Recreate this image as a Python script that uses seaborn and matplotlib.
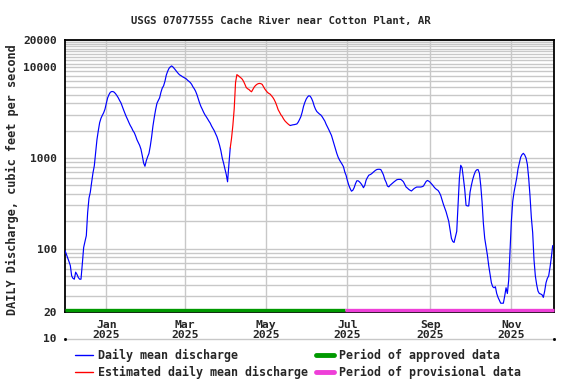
import numpy as np
import pandas as pd
import matplotlib
matplotlib.use("Agg")
import matplotlib.pyplot as plt
import matplotlib.transforms as mtransforms
from matplotlib.lines import Line2D
from matplotlib.ticker import FixedLocator, NullFormatter
import seaborn as sns

# ---------------- data ----------------
title = "USGS 07077555 Cache River near Cotton Plant, AR"
ylabel = "DAILY Discharge, cubic feet per second"
start_date = "2024-12-01"
period_end = "2025-12-03"
estimated_start = "2025-04-04"
estimated_end = "2025-05-19"
approved_end = "2025-06-29"

discharge_cfs = [
    95, 87, 79, 72, 65, 50, 47, 46, 55, 52,
    48, 46, 46, 68, 103, 120, 139, 250, 360, 420,
    540, 685, 820, 1150, 1600, 2000, 2450, 2740, 2950, 3150,
    3450, 4000, 4600, 5000, 5300, 5400, 5400, 5300, 5100, 4860,
    4600, 4300, 4050, 3700, 3380, 3100, 2850, 2650, 2450, 2280,
    2150, 2000, 1900, 1750, 1590, 1480, 1380, 1250, 1060, 880,
    810, 930, 1030, 1120, 1350, 1700, 2250, 2800, 3400, 4000,
    4300, 4600, 5300, 5900, 6250, 7000, 8180, 9000, 9700, 10100,
    10350, 10100, 9700, 9300, 8900, 8550, 8250, 8100, 7900, 7750,
    7600, 7450, 7200, 7000, 6800, 6500, 6100, 5800, 5450, 5000,
    4500, 4050, 3700, 3450, 3200, 3000, 2850, 2700, 2550, 2420,
    2250, 2120, 2000, 1850, 1720, 1550, 1380, 1200, 1000, 880,
    760, 660, 546, 845, 1290, 1655, 2300, 3500, 6800, 8300,
    8100, 7860, 7650, 7400, 7000, 6500, 6000, 5800, 5700, 5500,
    5370, 5700, 6050, 6300, 6480, 6600, 6640, 6600, 6480, 6100,
    5750, 5500, 5280, 5150, 5050, 4850, 4650, 4400, 4100, 3750,
    3400, 3200, 3000, 2870, 2700, 2570, 2480, 2400, 2330, 2280,
    2300, 2320, 2330, 2350, 2370, 2480, 2650, 2850, 3200, 3700,
    4100, 4450, 4700, 4860, 4800, 4550, 4200, 3750, 3450, 3250,
    3150, 3050, 2980, 2850, 2700, 2550, 2350, 2200, 2050, 1900,
    1770, 1580, 1400, 1250, 1120, 1020, 950, 900, 850, 800,
    700, 640, 560, 500, 460, 430, 440, 470, 520, 560,
    560, 545, 525, 500, 470, 500, 570, 610, 645, 655,
    668, 690, 710, 730, 745, 750, 750, 745, 700, 650,
    580, 540, 490, 480, 500, 515, 530, 546, 560, 575,
    580, 580, 580, 565, 546, 510, 478, 465, 450, 440,
    432, 445, 460, 470, 478, 478, 478, 478, 482, 490,
    520, 550, 565, 555, 540, 520, 500, 478, 460, 448,
    438, 415, 385, 345, 308, 280, 255, 225, 200, 160,
    130, 120, 117, 135, 155, 300, 600, 830, 780, 600,
    450, 300, 296, 296, 420, 500, 580, 650, 710, 740,
    745, 680, 500, 330, 190, 130, 105, 85, 65, 52,
    42, 38, 37, 38, 32, 29, 27, 25, 25, 25,
    30, 37, 32, 45, 95, 200, 330, 420, 500, 600,
    760, 880, 1020, 1090, 1125, 1080, 1000, 850, 600, 380,
    220, 150, 75, 50, 40, 34, 32, 31.6, 31, 29,
    34, 42, 47, 50, 62, 80, 108,
]

month_ticks = ["2025-01-01", "2025-03-01", "2025-05-01",
               "2025-07-01", "2025-09-01", "2025-11-01"]
month_labels = ["Jan\n2025", "Mar\n2025", "May\n2025",
                "Jul\n2025", "Sep\n2025", "Nov\n2025"]
y_ticks = [20, 100, 1000, 10000, 20000]
y_tick_labels = ["20", "100", "1000", "10000", "20000"]
legend_labels = ["Daily mean discharge", "Estimated daily mean discharge",
                 "Period of approved data", "Period of provisional data"]

# ---------------- frame ----------------
dates = pd.date_range(start_date, periods=len(discharge_cfs), freq="D")
df = pd.DataFrame({"date": dates, "cfs": discharge_cfs})
t_est0, t_est1 = pd.Timestamp(estimated_start), pd.Timestamp(estimated_end)
part_before = df[df["date"] <= t_est0]
part_est = df[(df["date"] >= t_est0) & (df["date"] <= t_est1)]
part_after = df[df["date"] >= t_est1]

BLUE, RED = "#0000ff", "#ff0000"
GREEN, PINK = "#009900", "#ee3fd8"
GRID = "#c8c8c8"

sns.set_theme(style="white")
plt.rcParams["font.family"] = ["DejaVu Sans Mono"]
plt.rcParams["font.weight"] = "bold"

W, H = 576, 384
fig = plt.figure(figsize=(W / 100, H / 100), dpi=100)
ax = fig.add_axes([65 / W, 1 - 312 / H, (554 - 65) / W, (312 - 40) / H])

for part, col in ((part_before, BLUE), (part_est, RED), (part_after, BLUE)):
    sns.lineplot(data=part, x="date", y="cfs", color=col, lw=0.85, ax=ax,
                 zorder=3)

ax.set_yscale("log")
t0, t1 = pd.Timestamp(start_date), pd.Timestamp(period_end)

# approved / provisional bars along the bottom
blend = mtransforms.blended_transform_factory(ax.transData, ax.transAxes)
ax.plot([t0, pd.Timestamp(approved_end)], [0.006, 0.006], transform=blend,
        color=GREEN, lw=2.4, solid_capstyle="butt", clip_on=False, zorder=6)
ax.plot([pd.Timestamp(approved_end), t1], [0.006, 0.006], transform=blend,
        color=PINK, lw=2.4, solid_capstyle="butt", clip_on=False, zorder=6)

# extra "10" level below the frame
ax.plot([t0, t1], [10, 10], color=GRID, lw=1.0, clip_on=False, zorder=1)
ax.plot([t0, t1], [10, 10], ls="none", marker="s", ms=1.0, color="black",
        clip_on=False, zorder=2)
ylab_blend = mtransforms.blended_transform_factory(ax.transAxes, ax.transData)
ax.text(-8 / 489, 10, "10", transform=ylab_blend, ha="right", va="center",
        fontsize=8.1, fontweight="bold", clip_on=False)

ax.set_xlim(t0, t1)
ax.set_ylim(20, 20000)

minor_y = [m * 10 ** e for e in (1, 2, 3) for m in range(2, 10)] + \
          [10000 + 1000 * k for k in range(1, 10)]
ax.yaxis.set_major_locator(FixedLocator(y_ticks))
ax.set_yticklabels(y_tick_labels)
ax.yaxis.set_minor_locator(FixedLocator(minor_y))
ax.yaxis.set_minor_formatter(NullFormatter())
ax.set_xticks(pd.to_datetime(month_ticks))
ax.set_xticklabels(month_labels, linespacing=1.05)

ax.grid(which="both", axis="y", color=GRID, lw=1.0)
ax.grid(which="major", axis="x", color=GRID, lw=1.0)
ax.set_axisbelow(True)
ax.tick_params(axis="both", which="both", length=0)
ax.tick_params(axis="y", pad=5.8, labelsize=8.1)
ax.tick_params(axis="x", pad=5.5, labelsize=8.2)
for lab in ax.get_xticklabels() + ax.get_yticklabels():
    lab.set_fontweight("bold")

for s in ax.spines.values():
    s.set_color("black")
    s.set_linewidth(1.3)

ax.set_xlabel("")
ax.set_ylabel(ylabel, fontsize=8.6, fontweight="bold")
ax.yaxis.set_label_coords(-0.095, 0.485)

fig.text(280.5 / W, 1 - 21 / H, title, ha="center", va="center",
         fontsize=7.7, fontweight="bold")

handles = [Line2D([], [], color=BLUE, lw=1.0),
           Line2D([], [], color=RED, lw=1.0),
           Line2D([], [], color=GREEN, lw=3.5),
           Line2D([], [], color=PINK, lw=3.5)]
fig.legend(handles, legend_labels, ncol=2, loc="upper left",
           bbox_to_anchor=(75 / W, 1 - 349 / H), frameon=False,
           handlelength=1.55, handletextpad=0.45,
           columnspacing=0.65, labelspacing=0.35, borderpad=0,
           borderaxespad=0, prop={"weight": "bold", "size": 8.4})

fig.savefig("out.png", dpi=100)
